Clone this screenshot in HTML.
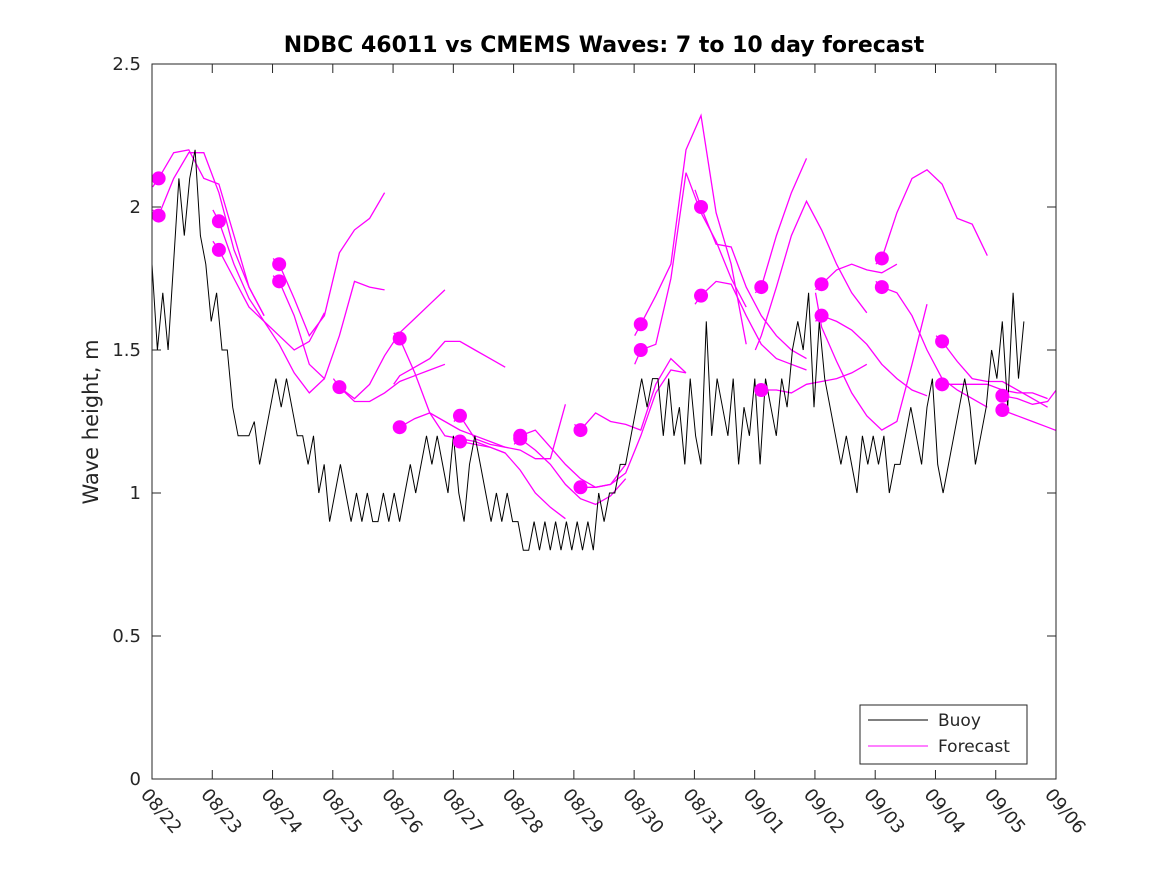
<!DOCTYPE html>
<html><head><meta charset="utf-8"><style>
html,body{margin:0;padding:0;background:#fff;}
svg{display:block;font-family:"DejaVu Sans","Liberation Sans",sans-serif;}
</style></head><body>
<svg id="chart" width="1167" height="875" viewBox="0 0 1167 875" xmlns="http://www.w3.org/2000/svg">
<rect x="0" y="0" width="1167" height="875" fill="#fff"/>
<defs><clipPath id="pc"><rect x="152" y="64" width="904" height="715"/></clipPath></defs>
<text x="604" y="52" text-anchor="middle" font-size="22" font-weight="bold">NDBC 46011 vs CMEMS Waves: 7 to 10 day forecast</text>
<text transform="translate(98,422) rotate(-90)" text-anchor="middle" font-size="21" fill="#262626">Wave height, m</text>
<g id="axes"></g>
<g id="series" clip-path="url(#pc)"></g>
<rect x="152" y="64" width="904" height="715" fill="none" stroke="#262626" stroke-width="1"/>
<g>
<rect x="860" y="705" width="167" height="59" fill="#fff" stroke="#262626"/>
<line x1="868" y1="720" x2="928" y2="720" stroke="#000"/>
<text x="938" y="726" font-size="17" fill="#262626">Buoy</text>
<line x1="868" y1="746" x2="928" y2="746" stroke="#ff00ff"/>
<text x="938" y="752" font-size="17" fill="#262626">Forecast</text>
</g>
</svg>
<script>
const xTickLabels = ["08/22","08/23","08/24","08/25","08/26","08/27","08/28","08/29","08/30","08/31","09/01","09/02","09/03","09/04","09/05","09/06"];
const yTickValues = [0,0.5,1,1.5,2,2.5];
const yTickLabels = ["0","0.5","1","1.5","2","2.5"];
const buoyStart = 0;
const buoyStep = 0.0893;
const buoyValues = [
1.8,1.5,1.7,1.5,1.8,2.1,1.9,2.1,2.2,1.9,1.8,1.6,
1.7,1.5,1.5,1.3,1.2,1.2,1.2,1.25,1.1,1.2,1.3,1.4,
1.3,1.4,1.3,1.2,1.2,1.1,1.2,1.0,1.1,0.9,1.0,1.1,
1.0,0.9,1.0,0.9,1.0,0.9,0.9,1.0,0.9,1.0,0.9,1.0,
1.1,1.0,1.1,1.2,1.1,1.2,1.1,1.0,1.2,1.0,0.9,1.1,
1.2,1.1,1.0,0.9,1.0,0.9,1.0,0.9,0.9,0.8,0.8,0.9,
0.8,0.9,0.8,0.9,0.8,0.9,0.8,0.9,0.8,0.9,0.8,1.0,
0.9,1.0,1.0,1.1,1.1,1.2,1.3,1.4,1.3,1.4,1.4,1.2,
1.4,1.2,1.3,1.1,1.4,1.2,1.1,1.6,1.2,1.4,1.3,1.2,
1.4,1.1,1.3,1.2,1.4,1.1,1.4,1.3,1.2,1.4,1.3,1.5,
1.6,1.5,1.7,1.3,1.6,1.4,1.3,1.2,1.1,1.2,1.1,1.0,
1.2,1.1,1.2,1.1,1.2,1.0,1.1,1.1,1.2,1.3,1.2,1.1,
1.3,1.4,1.1,1.0,1.1,1.2,1.3,1.4,1.3,1.1,1.2,1.3,
1.5,1.4,1.6,1.3,1.7,1.4,1.6];
const fcStart = [0.11,0.11,1.11,1.11,2.11,2.11,3.11,3.11,4.11,4.11,4.11,5.11,5.11,6.11,6.11,7.11,7.11,8.11,8.11,9.11,9.11,10.11,10.11,10.11,11.11,11.11,11.11,12.11,12.11,13.11,13.11,14.11,14.11];
const fcHasDot = [1,1,1,1,1,1,1,0,1,0,1,1,1,1,1,1,1,1,1,1,1,1,1,0,1,1,0,1,1,1,1,1,1];
const fcLeadStep = 0.25;
const fcLeadFirst = -0.1;
const fcValues = [
[2.07,2.10,2.19,2.20,2.10,2.08,1.90,1.72,1.62],
[1.99,1.97,2.10,2.19,2.19,2.05,1.85,1.72,1.62],
[1.99,1.95,1.80,1.68,1.60,1.55,1.50,1.53,1.63],
[1.88,1.85,1.75,1.65,1.60,1.52,1.42,1.35,1.40],
[1.82,1.80,1.68,1.55,1.62,1.84,1.92,1.96,2.05],
[1.76,1.74,1.62,1.45,1.40,1.55,1.74,1.72,1.71],
[1.40,1.37,1.33,1.38,1.48,1.56,1.61,1.66,1.71],
[1.38,1.37,1.32,1.32,1.35,1.39,1.41,1.43,1.45],
[1.56,1.54,1.42,1.28,1.20,1.19,1.18,1.16,1.14],
[1.38,1.41,1.44,1.47,1.53,1.53,1.50,1.47,1.44],
[1.22,1.23,1.26,1.28,1.25,1.22,1.20,1.18,1.16],
[1.25,1.27,1.19,1.17,1.16,1.15,1.12,1.12,1.31],
[1.19,1.18,1.17,1.16,1.14,1.08,1.00,0.95,0.91],
[1.17,1.20,1.22,1.16,1.10,1.05,1.02,1.03,1.10],
[1.18,1.19,1.15,1.10,1.03,0.98,0.96,0.99,1.05],
[1.24,1.22,1.28,1.25,1.24,1.22,1.38,1.47,1.42],
[1.03,1.02,1.02,1.03,1.07,1.20,1.35,1.43,1.42],
[1.55,1.59,1.69,1.80,2.20,2.32,1.98,1.80,1.52],
[1.45,1.50,1.52,1.75,2.12,1.98,1.88,1.75,1.65],
[2.06,2.00,1.87,1.86,1.72,1.62,1.55,1.50,1.47],
[1.66,1.69,1.74,1.73,1.62,1.52,1.47,1.45,1.43],
[1.70,1.72,1.90,2.05,2.17],
[1.36,1.36,1.36,1.35,1.38,1.39,1.40,1.42,1.45],
[1.50,1.55,1.72,1.90,2.02,1.92,1.80,1.70,1.63],
[1.71,1.73,1.78,1.80,1.78,1.77,1.80],
[1.60,1.62,1.60,1.57,1.52,1.45,1.40,1.36,1.34],
[1.70,1.58,1.46,1.35,1.27,1.22,1.25,1.45,1.66],
[1.80,1.82,1.98,2.10,2.13,2.08,1.96,1.94,1.83],
[1.74,1.72,1.70,1.62,1.50,1.40,1.36,1.33,1.30],
[1.55,1.53,1.46,1.40,1.39,1.39,1.36,1.33,1.30],
[1.37,1.38,1.38,1.38,1.38,1.36,1.35,1.35,1.33],
[1.35,1.34,1.33,1.31,1.32,1.39],
[1.30,1.29,1.27,1.25,1.23,1.21]];

const NS = "http://www.w3.org/2000/svg";
const X0 = 152, X1 = 1056, Y0 = 779, Y1 = 64;
const xScale = d => X0 + d * (X1 - X0) / 15;
const yScale = v => Y0 - v * (Y0 - Y1) / 2.5;
const axes = document.getElementById('axes');
const series = document.getElementById('series');
function mk(tag, attrs, parent){ const e=document.createElementNS(NS,tag); for(const k in attrs) e.setAttribute(k,attrs[k]); parent.appendChild(e); return e; }

xTickLabels.forEach((lab,i)=>{
  const x = xScale(i);
  const t1 = mk('line',{x1:x,y1:Y0,x2:x,y2:Y0-9,stroke:'#262626'},axes);
  
  
  const t2 = mk('line',{x1:x,y1:Y1,x2:x,y2:Y1+9,stroke:'#262626'},axes);
  
  
  const tx = mk('text',{transform:`translate(${x-12},${Y0+16}) rotate(50)`,'font-size':18,fill:'#262626'},axes);
  tx.textContent = lab;
  
  
});
yTickValues.forEach((v,i)=>{
  const y = yScale(v);
  const t1 = mk('line',{x1:X0,y1:y,x2:X0+9,y2:y,stroke:'#262626'},axes);
  
  
  const t2 = mk('line',{x1:X1,y1:y,x2:X1-9,y2:y,stroke:'#262626'},axes);
  
  
  const tx = mk('text',{x:X0-11,y:y+6,'text-anchor':'end','font-size':18,fill:'#262626'},axes);
  tx.textContent = yTickLabels[i];
  
  
});

fcValues.forEach((vals,i)=>{
  const pts = vals.map((v,j)=>{
    const lead = j===0 ? fcLeadFirst : (j-1)*fcLeadStep;
    return xScale(fcStart[i]+lead).toFixed(1)+','+yScale(v).toFixed(1);
  }).join(' ');
  const pl = mk('polyline',{points:pts,fill:'none',stroke:'#ff00ff','stroke-width':1.3},series);
  
  
});

const bpts = buoyValues.map((v,j)=> xScale(buoyStart+j*buoyStep).toFixed(1)+','+yScale(v).toFixed(1)).join(' ');
const bl = mk('polyline',{points:bpts,fill:'none',stroke:'#000','stroke-width':1},series);



fcValues.forEach((vals,i)=>{
  if(!fcHasDot[i]) return;
  const c = mk('circle',{cx:xScale(fcStart[i]),cy:yScale(vals[1]),r:7,fill:'#ff00ff'},series);
  
  
});
</script>
</body></html>
